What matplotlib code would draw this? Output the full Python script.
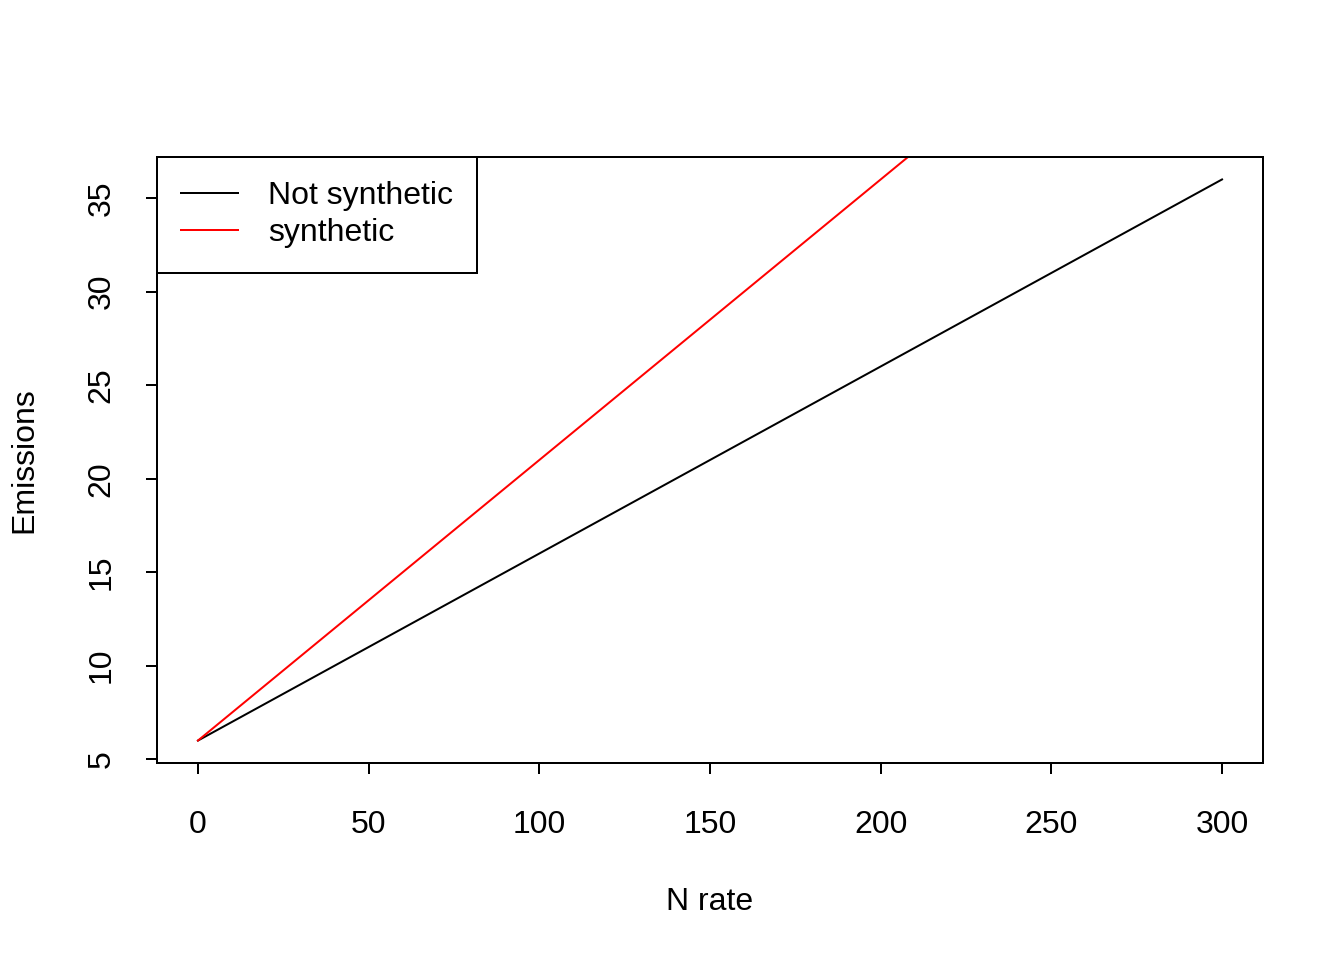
import matplotlib
matplotlib.use('Agg')
import matplotlib.pyplot as plt

# Datos del gráfico (emisiones lineales según la dosis de N)
n_rate = [0, 300]
not_synthetic = [6, 36]
synthetic = [6, 51]

x_ticks = [0, 50, 100, 150, 200, 250, 300]
y_ticks = [5, 10, 15, 20, 25, 30, 35]

plt.rcParams['font.family'] = ['Liberation Sans', 'DejaVu Sans']
plt.rcParams['font.size'] = 12

fig = plt.figure(figsize=(7, 5), dpi=192)
W, H = 1344, 960
ax = fig.add_axes([157 / W, (H - 763) / H, (1263 - 157) / W, (763 - 157) / H])

ax.plot(n_rate, not_synthetic, color='black', lw=0.75, label='Not synthetic')
ax.plot(n_rate, synthetic, color='red', lw=0.75, label='synthetic')

# límites estilo R (extensión del 4 %)
ax.set_xlim(-12, 312)
ax.set_ylim(6 - 1.2, 36 + 1.2)

ax.set_xticks(x_ticks)
ax.set_yticks(y_ticks)
ax.tick_params(direction='out', length=4.1, width=0.75, color='black')
ax.tick_params(axis='x', pad=13.6)
ax.tick_params(axis='y', pad=11, labelrotation=90)
for lab in ax.get_yticklabels():
    lab.set_va('center')

for sp in ax.spines.values():
    sp.set_linewidth(0.75)

ax.set_xlabel('N rate', labelpad=17.6)
ax.set_ylabel('Emissions', labelpad=17.8)

leg = ax.legend(loc='upper left', borderaxespad=0, fancybox=False,
                edgecolor='black', framealpha=1, handlelength=1.76,
                handletextpad=0.95, borderpad=0.76, labelspacing=0.22)
leg.get_frame().set_linewidth(0.75)

fig.savefig('out.png', dpi=192)
